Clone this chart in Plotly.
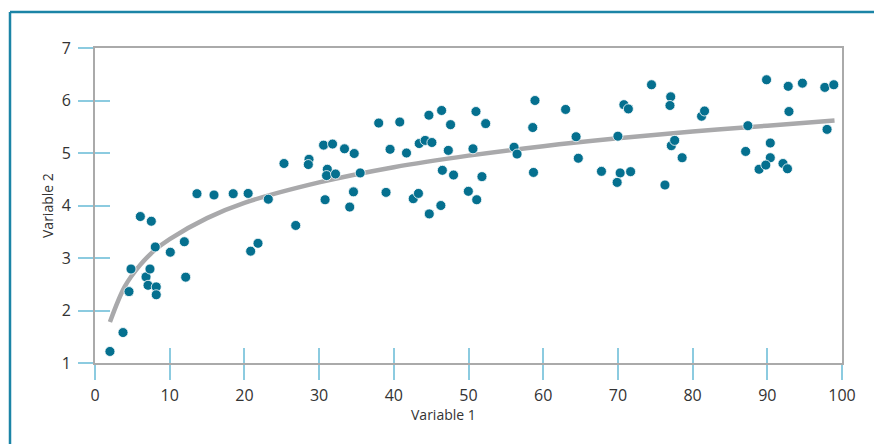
import plotly.graph_objects as go

# Scatter data
var1 = [2.0, 3.75, 4.55, 4.82, 6.07, 7.54, 6.83, 7.36, 7.1, 8.2,
        8.2, 8.07, 10.08, 11.96, 12.14, 13.65, 15.93, 18.5, 20.5, 20.84,
        21.82, 23.2, 25.3, 26.87, 28.65, 28.56, 30.6, 31.8, 30.8, 31.1,
        31.0, 32.2, 33.4, 34.7, 34.6, 34.1, 35.5, 37.98, 40.8, 38.96,
        39.5, 41.7, 43.4, 44.2, 45.1, 44.7, 46.4, 47.6, 47.3, 46.5,
        48.0, 42.6, 43.3, 44.75, 46.3, 49.98, 51.1, 51.0, 50.6, 52.3,
        51.8, 58.9, 58.6, 56.1, 56.5, 58.7, 63.0, 64.4, 64.7, 67.8,
        70.0, 70.8, 71.4, 70.3, 69.9, 71.7, 74.5, 76.3, 77.07, 76.97,
        77.15, 77.6, 78.6, 81.2, 81.6, 87.4, 87.1, 89.9, 92.8, 94.7,
        97.7, 98.9, 92.9, 98.0, 90.4, 90.4, 88.9, 89.8, 92.1, 92.7]
var2 = [1.22, 1.58, 2.36, 2.79, 3.79, 3.70, 2.64, 2.79, 2.48, 2.45,
        2.30, 3.21, 3.11, 3.31, 2.635, 4.225, 4.20, 4.225, 4.23, 3.13,
        3.28, 4.12, 4.80, 3.62, 4.88, 4.78, 5.15, 5.17, 4.11, 4.69,
        4.57, 4.60, 5.08, 4.99, 4.26, 3.97, 4.62, 5.57, 5.59, 4.25,
        5.07, 5.00, 5.18, 5.24, 5.20, 5.72, 5.81, 5.54, 5.05, 4.67,
        4.58, 4.13, 4.23, 3.84, 4.00, 4.27, 4.11, 5.79, 5.08, 5.56,
        4.55, 6.00, 5.485, 5.11, 4.98, 4.63, 5.83, 5.31, 4.90, 4.65,
        5.32, 5.92, 5.84, 4.62, 4.44, 4.645, 6.30, 4.39, 6.07, 5.905,
        5.14, 5.24, 4.91, 5.70, 5.80, 5.52, 5.03, 6.395, 6.27, 6.33,
        6.25, 6.30, 5.79, 5.45, 5.19, 4.91, 4.69, 4.77, 4.80, 4.70]

# Trend curve
trend_x = [2, 4, 6, 8, 10, 15, 20, 30, 40, 50, 60, 70, 80, 90, 99]
trend_y = [1.78, 2.46, 2.86, 3.15, 3.36, 3.76, 4.05, 4.44, 4.73, 4.95,
           5.13, 5.28, 5.41, 5.52, 5.62]

x_ticks = [0, 10, 20, 30, 40, 50, 60, 70, 80, 90, 100]
y_ticks = [1, 2, 3, 4, 5, 6, 7]

W, H = 874, 444
ML, MR, MT, MB = 95, 32, 48, 81

TICK_COLOR = "#8ccbe0"
FRAME_COLOR = "#aaaaaa"
TEXT_COLOR = "#333333"
FONT = "Open Sans"

fig = go.Figure()
fig.add_trace(go.Scatter(x=trend_x, y=trend_y, mode="lines",
                         line=dict(color="#a9a9ab", width=4.5, shape="spline"),
                         hoverinfo="skip", showlegend=False))
fig.add_trace(go.Scatter(x=var1, y=var2, mode="markers",
                         marker=dict(color="#05708f", size=10,
                                     line=dict(color="white", width=0.8)),
                         showlegend=False))

axis_common = dict(showgrid=False, zeroline=False)
fig.update_layout(
    width=W, height=H,
    margin=dict(l=ML, r=MR, t=MT, b=MB),
    paper_bgcolor="white", plot_bgcolor="white",
    font=dict(family=FONT, color=TEXT_COLOR),
    xaxis=dict(range=[0, 100], tickvals=x_ticks, ticks="outside", ticklen=15,
               tickwidth=1.5, tickcolor=TICK_COLOR, showline=True,
               linecolor=FRAME_COLOR, linewidth=2, mirror=True,
               tickfont=dict(size=16, color=TEXT_COLOR), ticklabelstandoff=2,
               **axis_common),
    yaxis=dict(range=[1, 7], tickvals=y_ticks, ticks="outside", ticklen=15,
               tickwidth=1.5, tickcolor=TICK_COLOR, showline=True,
               linecolor=FRAME_COLOR, linewidth=2, mirror=True,
               tickfont=dict(size=16, color=TEXT_COLOR), ticklabelstandoff=4,
               **axis_common),
    xaxis2=dict(range=[0, 100], tickvals=x_ticks, ticks="inside", ticklen=15,
                tickwidth=1.5, tickcolor=TICK_COLOR, showticklabels=False,
                overlaying="x", side="bottom", showline=False, **axis_common),
    yaxis2=dict(range=[1, 7], tickvals=y_ticks, ticks="inside", ticklen=15,
                tickwidth=1.5, tickcolor=TICK_COLOR, showticklabels=False,
                overlaying="y", side="left", showline=False, **axis_common),
)
# invisible trace to activate overlay axes
fig.add_trace(go.Scatter(x=[None], y=[None], xaxis="x2", yaxis="y2",
                         showlegend=False, hoverinfo="skip"))

pw = W - ML - MR
ph = H - MT - MB

def px_x(p):
    return (p - ML) / pw

def px_y(p):
    return (H - MB - p) / ph

fig.add_annotation(text="Variable 1", xref="paper", yref="paper",
                   x=px_x(443), y=px_y(414), showarrow=False,
                   font=dict(size=14, color=TEXT_COLOR, family=FONT),
                   xanchor="center", yanchor="middle")
fig.add_annotation(text="Variable 2", xref="paper", yref="paper",
                   x=px_x(47), y=px_y(206), showarrow=False, textangle=-90,
                   font=dict(size=14, color=TEXT_COLOR, family=FONT),
                   xanchor="center", yanchor="middle")

BORDER = "#1b84a6"
fig.add_shape(type="line", xref="paper", yref="paper",
              x0=px_x(10), x1=px_x(874), y0=px_y(12), y1=px_y(12),
              line=dict(color=BORDER, width=2.5))
fig.add_shape(type="line", xref="paper", yref="paper",
              x0=px_x(10), x1=px_x(10), y0=px_y(12), y1=px_y(444),
              line=dict(color=BORDER, width=2.5))

fig.write_html("out.html")
